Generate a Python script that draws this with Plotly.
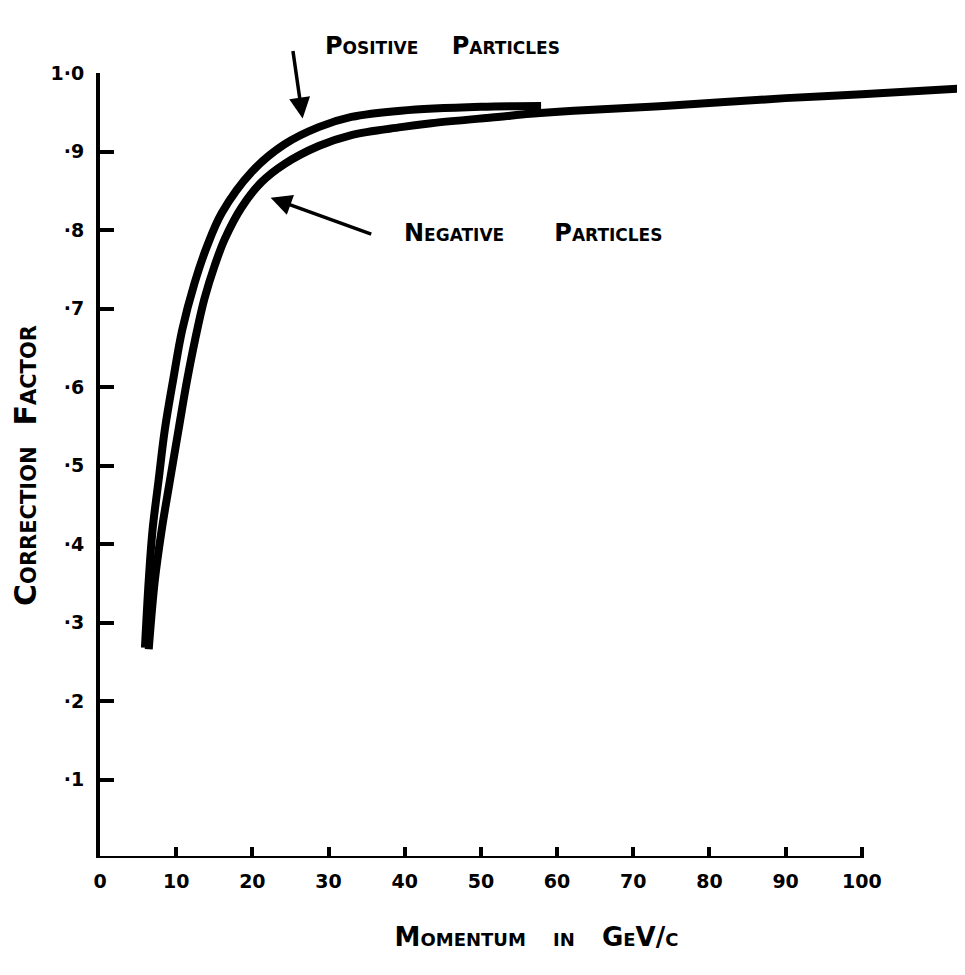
import plotly.graph_objects as go

# Momentum (GeV/c) and correction factor
pos_momentum = [5.9, 6.4, 6.9, 7.7, 8.5, 9.6, 10.8, 12.4, 14.0, 16.0, 19.9, 24.2, 28.7, 33.0, 39.5, 50.0, 57.9]
pos_factor = [0.268, 0.354, 0.418, 0.482, 0.545, 0.609, 0.673, 0.732, 0.778, 0.822, 0.874, 0.909, 0.931, 0.944, 0.952, 0.957, 0.958]

neg_momentum = [6.4, 7.2, 8.1, 9.2, 10.3, 11.4, 12.5, 13.7, 15.1, 16.4, 18.6, 21.2, 24.2, 28.7, 33.0, 39.5,
                43.5, 52.2, 56.5, 62.2, 74.0, 90.0, 100.0, 112.6]
neg_factor = [0.266, 0.354, 0.418, 0.482, 0.545, 0.607, 0.661, 0.712, 0.756, 0.789, 0.829, 0.861, 0.884, 0.907, 0.921, 0.931,
              0.936, 0.944, 0.948, 0.952, 0.958, 0.968, 0.973, 0.980]

x_ticks = [0, 10, 20, 30, 40, 50, 60, 70, 80, 90, 100]
x_ticktext = ["0", "10", "20", "30", "40", "50", "60", "70", "80", "90", "100"]
y_ticks = [0.1, 0.2, 0.3, 0.4, 0.5, 0.6, 0.7, 0.8, 0.9, 1.0]
y_ticktext = ["·1", "·2", "·3", "·4", "·5", "·6", "·7", "·8", "·9", "1·0"]

FONT = "DejaVu Sans"
NB = "\u00a0"

fig = go.Figure()
fig.add_trace(go.Scatter(x=neg_momentum, y=neg_factor, mode="lines",
                         line=dict(color="black", width=8, shape="spline", smoothing=1.0),
                         name="Negative particles", showlegend=False))
fig.add_trace(go.Scatter(x=pos_momentum, y=pos_factor, mode="lines",
                         line=dict(color="black", width=8, shape="spline", smoothing=1.0),
                         name="Positive particles", showlegend=False))

# x axis line (stops at 100 as in the drawing)
fig.add_shape(type="line", xref="x", yref="y", x0=0, x1=100, y0=0, y1=0,
              line=dict(color="black", width=4))

label_font = dict(family=FONT, size=24, color="black", weight="bold", variant="small-caps")
fig.add_annotation(x=44.9, y=1.055, xref="x", yref="paper",
                   text="Positive" + NB * 4 + "Particles",
                   showarrow=False, font=label_font)
fig.add_annotation(x=26.6, y=0.942, xref="x", yref="y", ax=25.3, ay=1.03, axref="x", ayref="y",
                   text="", showarrow=True, arrowhead=2, arrowsize=1.2, arrowwidth=3.5, arrowcolor="black")
fig.add_annotation(x=56.8, y=0.796, xref="x", yref="y",
                   text="Negative" + NB * 6 + "Particles",
                   showarrow=False, font=label_font)
fig.add_annotation(x=22.4, y=0.841, xref="x", yref="y", ax=35.8, ay=0.794, axref="x", ayref="y",
                   text="", showarrow=True, arrowhead=2, arrowsize=1.2, arrowwidth=3.5, arrowcolor="black")

fig.update_layout(
    width=965, height=975,
    margin=dict(l=92, r=0, t=65, b=125),
    paper_bgcolor="white", plot_bgcolor="white",
    font=dict(family=FONT, color="black"),
    xaxis=dict(range=[0, 114.6], tickvals=x_ticks, ticktext=x_ticktext,
               ticks="inside", ticklen=11, tickwidth=4, tickcolor="black",
               showline=False, showgrid=False, zeroline=False, automargin=False,
               tickfont=dict(family=FONT, size=19, weight="bold"),
               ticklabelstandoff=10,
               title=dict(text="Momentum" + NB * 3 + "in" + NB * 3 + "GeV/c", standoff=36,
                          font=dict(family=FONT, size=26, weight="bold", variant="small-caps"))),
    yaxis=dict(range=[0, 1.0], tickvals=y_ticks, ticktext=y_ticktext,
               ticks="inside", ticklen=14, tickwidth=4, tickcolor="black",
               showline=True, linewidth=4, linecolor="black",
               showgrid=False, zeroline=False, automargin=False,
               tickfont=dict(family=FONT, size=19, weight="bold"),
               ticklabelstandoff=8,
               title=dict(text="Correction" + NB * 2 + "Factor", standoff=20,
                          font=dict(family=FONT, size=30, weight="bold", variant="small-caps"))),
)

fig.write_html("out.html")
